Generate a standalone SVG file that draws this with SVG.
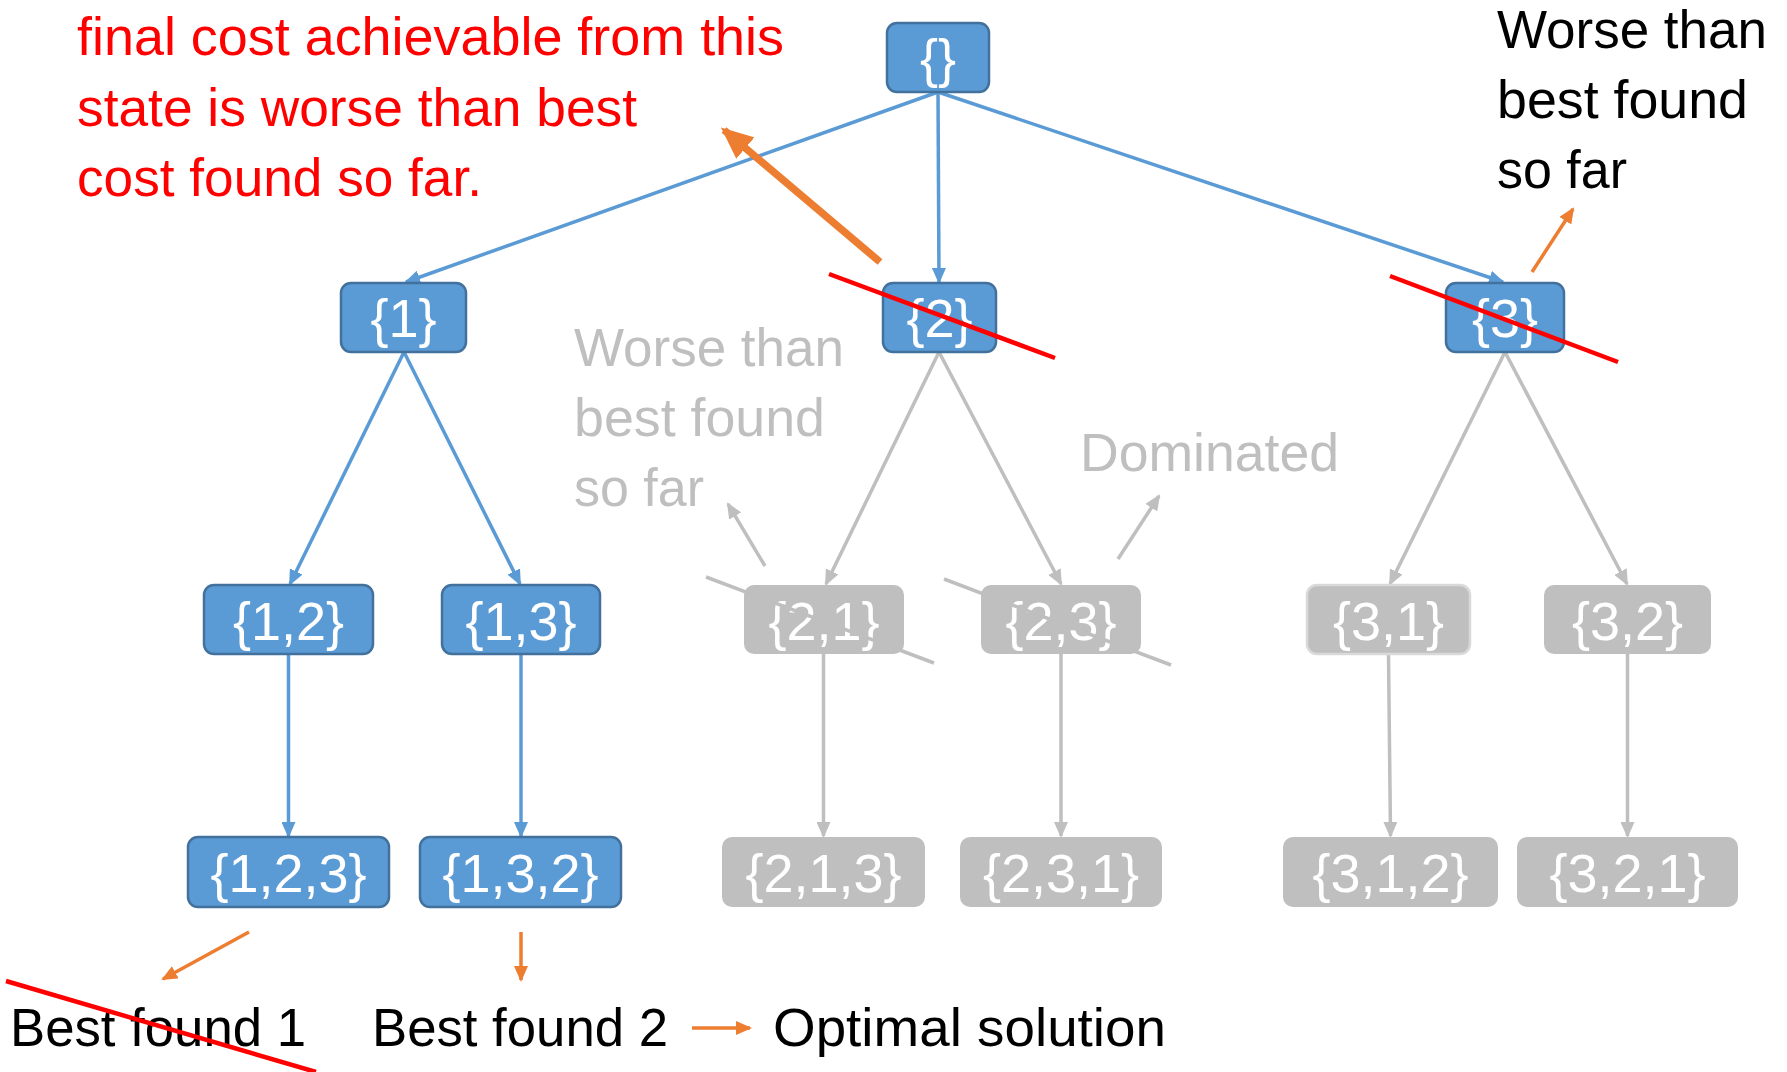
<svg xmlns="http://www.w3.org/2000/svg" width="1787" height="1072" viewBox="0 0 1787 1072">
<style>
.bn{fill:#5B9BD5;stroke:#41719C;stroke-width:2.5}
.gn{fill:#BFBFBF}
.lbl{font-family:"Liberation Sans",Arial,sans-serif;font-size:54px;fill:#FFFFFF;text-anchor:middle}
.ann{font-family:"Liberation Sans",Arial,sans-serif;font-size:54px}
.cb{stroke:#5B9BD5;stroke-width:3.5;fill:none}
.cg{stroke:#BFBFBF;stroke-width:3.5;fill:none}
.co{stroke:#ED7D31;stroke-width:3.5;fill:none}
.red{stroke:#FF0000;stroke-width:4.5;fill:none}
</style>
<defs>
<marker id="ab" markerUnits="userSpaceOnUse" markerWidth="16" markerHeight="14" refX="14" refY="7" orient="auto"><path d="M0,0 L16,7 L0,14 z" fill="#5B9BD5"/></marker>
<marker id="ag" markerUnits="userSpaceOnUse" markerWidth="16" markerHeight="14" refX="14" refY="7" orient="auto"><path d="M0,0 L16,7 L0,14 z" fill="#BFBFBF"/></marker>
<marker id="ao" markerUnits="userSpaceOnUse" markerWidth="16" markerHeight="14" refX="14" refY="7" orient="auto"><path d="M0,0 L16,7 L0,14 z" fill="#ED7D31"/></marker>
<marker id="aoL" markerUnits="userSpaceOnUse" markerWidth="32" markerHeight="28" refX="28" refY="14" orient="auto"><path d="M0,0 L32,14 L0,28 z" fill="#ED7D31"/></marker>
</defs>
<rect width="1787" height="1072" fill="#FFFFFF"/>

<g id="connectors">
<path class="cb" d="M938,92 L406,282" marker-end="url(#ab)"/>
<path class="cb" d="M938,92 L939,282" marker-end="url(#ab)"/>
<path class="cb" d="M938,92 L1503,282" marker-end="url(#ab)"/>
<path class="cb" d="M404,352 L290,584" marker-end="url(#ab)"/>
<path class="cb" d="M404,352 L520,584" marker-end="url(#ab)"/>
<path class="cb" d="M288.5,654 L288.5,836" marker-end="url(#ab)"/>
<path class="cb" d="M521,654 L521,836" marker-end="url(#ab)"/>
<path class="cg" d="M939,352 L826,584" marker-end="url(#ag)"/>
<path class="cg" d="M939,352 L1061,584" marker-end="url(#ag)"/>
<path class="cg" d="M1505,352 L1390,584" marker-end="url(#ag)"/>
<path class="cg" d="M1505,352 L1627,584" marker-end="url(#ag)"/>
<path class="cg" d="M823.5,654 L823.5,836" marker-end="url(#ag)"/>
<path class="cg" d="M1061,654 L1061,836" marker-end="url(#ag)"/>
<path class="cg" d="M1388.5,654 L1390.5,836" marker-end="url(#ag)"/>
<path class="cg" d="M1627.5,654 L1627.5,836" marker-end="url(#ag)"/>
</g>

<g id="node-root"><rect class="bn" x="887" y="23" width="102" height="69" rx="10"/><text class="lbl" x="938" y="77">{}</text></g>
<g id="node-1"><rect class="bn" x="341" y="283" width="125" height="69" rx="10"/><text class="lbl" x="403.5" y="337">{1}</text></g>
<g id="node-2"><rect class="bn" x="883" y="283" width="113" height="69" rx="10"/><text class="lbl" x="939.5" y="337">{2}</text></g>
<g id="node-3"><rect class="bn" x="1446" y="283" width="118" height="69" rx="10"/><text class="lbl" x="1505" y="337">{3}</text></g>
<g id="node-12"><rect class="bn" x="204" y="585" width="169" height="69" rx="10"/><text class="lbl" x="288.5" y="640">{1,2}</text></g>
<g id="node-13"><rect class="bn" x="442" y="585" width="158" height="69" rx="10"/><text class="lbl" x="521" y="640">{1,3}</text></g>
<g id="node-21"><rect class="gn" x="744" y="585" width="160" height="69" rx="10"/><text class="lbl" x="824" y="640">{2,1}</text></g>
<g id="node-23"><rect class="gn" x="981" y="585" width="160" height="69" rx="10"/><text class="lbl" x="1061" y="640">{2,3}</text></g>
<g id="node-31"><rect class="gn" x="1307" y="585" width="163" height="69" rx="10" stroke="#D9D9D9" stroke-width="2.5"/><text class="lbl" x="1388.5" y="640">{3,1}</text></g>
<g id="node-32"><rect class="gn" x="1544" y="585" width="167" height="69" rx="10"/><text class="lbl" x="1627.5" y="640">{3,2}</text></g>
<g id="node-123"><rect class="bn" x="188" y="837" width="201" height="70" rx="10"/><text class="lbl" x="288.5" y="892">{1,2,3}</text></g>
<g id="node-132"><rect class="bn" x="420" y="837" width="201" height="70" rx="10"/><text class="lbl" x="520.5" y="892">{1,3,2}</text></g>
<g id="node-213"><rect class="gn" x="722" y="837" width="203" height="70" rx="10"/><text class="lbl" x="823.5" y="892">{2,1,3}</text></g>
<g id="node-231"><rect class="gn" x="960" y="837" width="202" height="70" rx="10"/><text class="lbl" x="1061" y="892">{2,3,1}</text></g>
<g id="node-312"><rect class="gn" x="1283" y="837" width="215" height="70" rx="10"/><text class="lbl" x="1390.5" y="892">{3,1,2}</text></g>
<g id="node-321"><rect class="gn" x="1517" y="837" width="221" height="70" rx="10"/><text class="lbl" x="1627.5" y="892">{3,2,1}</text></g>

<g id="annotations">
<path class="cg" d="M706,577 L934,663"/>
<path class="cg" d="M944,579 L1171,665"/>
<path class="red" d="M829,274 L1055,358"/>
<path class="red" d="M1390,276 L1618,362"/>
<path d="M880,262 L724,130" stroke="#ED7D31" stroke-width="7.5" fill="none" marker-end="url(#aoL)"/>
<path class="co" d="M1532,272 L1573,209" marker-end="url(#ao)"/>
<path class="co" d="M249,932 L163,979" marker-end="url(#ao)"/>
<path class="co" d="M521,932 L521,980" marker-end="url(#ao)"/>
<path class="co" d="M692,1028 L750,1028" marker-end="url(#ao)"/>
<path class="cg" d="M765,566 L728,504" marker-end="url(#ag)"/>
<path class="cg" d="M1118,559 L1159,496" marker-end="url(#ag)"/>

<text class="ann" fill="#FF0000" x="77" y="55" textLength="707" lengthAdjust="spacingAndGlyphs">final cost achievable from this</text>
<text class="ann" fill="#FF0000" x="77" y="126" textLength="560" lengthAdjust="spacingAndGlyphs">state is worse than best</text>
<text class="ann" fill="#FF0000" x="77" y="196" textLength="405" lengthAdjust="spacingAndGlyphs">cost found so far.</text>

<text class="ann" fill="#000000" x="1497" y="48" textLength="270" lengthAdjust="spacingAndGlyphs">Worse than</text>
<text class="ann" fill="#000000" x="1497" y="118" textLength="251" lengthAdjust="spacingAndGlyphs">best found</text>
<text class="ann" fill="#000000" x="1497" y="188" textLength="130" lengthAdjust="spacingAndGlyphs">so far</text>

<text class="ann" fill="#BFBFBF" x="574" y="366" textLength="270" lengthAdjust="spacingAndGlyphs">Worse than</text>
<text class="ann" fill="#BFBFBF" x="574" y="436" textLength="251" lengthAdjust="spacingAndGlyphs">best found</text>
<text class="ann" fill="#BFBFBF" x="574" y="506" textLength="130" lengthAdjust="spacingAndGlyphs">so far</text>

<text class="ann" fill="#BFBFBF" x="1080" y="471" textLength="259" lengthAdjust="spacingAndGlyphs">Dominated</text>

<text class="ann" fill="#000000" x="10" y="1046" textLength="296" lengthAdjust="spacingAndGlyphs">Best found 1</text>
<text class="ann" fill="#000000" x="372" y="1046" textLength="296" lengthAdjust="spacingAndGlyphs">Best found 2</text>
<text class="ann" fill="#000000" x="773" y="1046" textLength="393" lengthAdjust="spacingAndGlyphs">Optimal solution</text>
<path class="red" d="M6,981 L316,1072"/>
</g>
</svg>
